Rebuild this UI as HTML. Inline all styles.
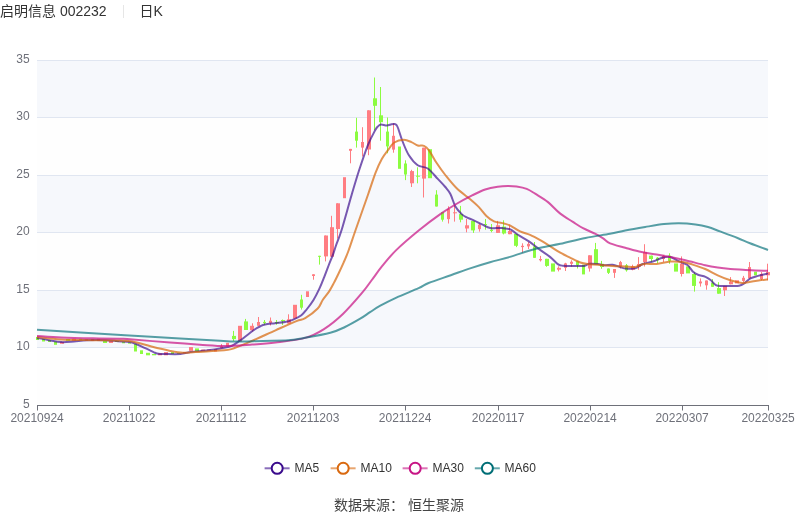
<!DOCTYPE html>
<html lang="zh"><head><meta charset="utf-8"><title>启明信息 002232 日K</title>
<style>
html,body{margin:0;padding:0;background:#fff;}
body{width:800px;height:517px;position:relative;overflow:hidden;font-family:"Liberation Sans","Noto Sans CJK SC",sans-serif;}
.title{position:absolute;left:0px;top:1px;font-size:14px;line-height:20px;color:#333;white-space:nowrap;}
.title .sep{display:inline-block;width:1px;height:13px;background:#e6e6e6;vertical-align:-2px;margin:0 16px 0 16px;}
.ax{font:12px "Liberation Sans","Noto Sans CJK SC",sans-serif;fill:#6e7079;}
.lg{font:12px "Liberation Sans","Noto Sans CJK SC",sans-serif;fill:#333;}
.src{position:absolute;left:-1px;width:800px;top:495px;text-align:center;font-size:14px;line-height:20px;color:#444;white-space:pre;}
</style></head><body>
<div class="title"><span>启明信息 002232</span><span class="sep"></span><span>日K</span></div>
<svg width="800" height="495" viewBox="0 22 800 495" style="position:absolute;left:0;top:22px">
<rect x="37" y="60" width="731" height="57.5" fill="#f6f8fc"/>
<rect x="37" y="175" width="731" height="57.5" fill="#f6f8fc"/>
<rect x="37" y="290" width="731" height="57.5" fill="#f6f8fc"/>
<rect x="37" y="117.5" width="731" height="57.5" fill="#fefefe"/>
<rect x="37" y="232.5" width="731" height="57.5" fill="#fefefe"/>
<rect x="37" y="347.5" width="731" height="57.5" fill="#fefefe"/>
<rect x="37" y="60" width="731" height="1" fill="#e0e6f1"/>
<rect x="37" y="117" width="731" height="1" fill="#e0e6f1"/>
<rect x="37" y="175" width="731" height="1" fill="#e0e6f1"/>
<rect x="37" y="232" width="731" height="1" fill="#e0e6f1"/>
<rect x="37" y="290" width="731" height="1" fill="#e0e6f1"/>
<rect x="37" y="347" width="731" height="1" fill="#e0e6f1"/>
<rect x="36.00" y="337.00" width="3.00" height="3.00" fill="#8cfc40"/>
<rect x="42.00" y="339.00" width="3.00" height="2.50" fill="#8cfc40"/>
<rect x="48.00" y="340.00" width="3.00" height="2.00" fill="#8cfc40"/>
<rect x="54.00" y="341.50" width="3.00" height="3.30" fill="#8cfc40"/>
<rect x="60.00" y="341.80" width="4.00" height="2.00" fill="#ff7d82"/>
<rect x="66.00" y="339.00" width="4.00" height="1.80" fill="#8cfc40"/>
<rect x="72.00" y="338.80" width="4.00" height="2.00" fill="#ff7d82"/>
<rect x="79.00" y="338.80" width="3.00" height="1.40" fill="#8cfc40"/>
<rect x="85.00" y="339.20" width="3.00" height="1.60" fill="#ff7d82"/>
<rect x="91.00" y="339.00" width="3.00" height="2.00" fill="#ff7d82"/>
<rect x="97.00" y="338.80" width="3.00" height="2.20" fill="#ff7d82"/>
<rect x="103.00" y="341.00" width="4.00" height="2.00" fill="#8cfc40"/>
<rect x="109.00" y="341.00" width="4.00" height="2.00" fill="#ff7d82"/>
<rect x="115.00" y="341.00" width="4.00" height="1.00" fill="#8cfc40"/>
<rect x="122.00" y="341.70" width="3.00" height="1.60" fill="#8cfc40"/>
<rect x="128.00" y="342.50" width="3.00" height="1.20" fill="#8cfc40"/>
<rect x="134.00" y="344.00" width="3.00" height="7.50" fill="#8cfc40"/>
<rect x="140.00" y="350.30" width="3.00" height="3.70" fill="#8cfc40"/>
<rect x="146.00" y="352.80" width="4.00" height="2.50" fill="#8cfc40"/>
<rect x="152.00" y="354.00" width="4.00" height="1.30" fill="#8cfc40"/>
<rect x="158.00" y="353.40" width="4.00" height="1.90" fill="#ff7d82"/>
<rect x="164.00" y="352.10" width="4.00" height="3.20" fill="#ff7d82"/>
<rect x="171.00" y="352.10" width="3.00" height="1.90" fill="#8cfc40"/>
<rect x="177.00" y="352.80" width="3.00" height="1.00" fill="#8cfc40"/>
<rect x="183.00" y="352.10" width="3.00" height="1.30" fill="#ff7d82"/>
<rect x="189.00" y="347.10" width="4.00" height="3.80" fill="#ff7d82"/>
<rect x="195.00" y="348.40" width="4.00" height="3.10" fill="#8cfc40"/>
<rect x="201.00" y="349.60" width="4.00" height="1.30" fill="#ff7d82"/>
<rect x="207.00" y="349.50" width="4.00" height="1.00" fill="#ff7d82"/>
<rect x="214.00" y="349.00" width="3.00" height="2.50" fill="#ff7d82"/>
<rect x="221.00" y="344.00" width="1" height="4.50" fill="#ff7d82"/>
<rect x="220.00" y="346.30" width="3.00" height="1.90" fill="#ff7d82"/>
<rect x="226.00" y="342.80" width="3.00" height="3.20" fill="#ff7d82"/>
<rect x="233.00" y="330.90" width="1" height="10.00" fill="#8cfc40"/>
<rect x="232.00" y="335.90" width="4.00" height="3.20" fill="#8cfc40"/>
<rect x="238.00" y="325.80" width="4.00" height="15.80" fill="#ff7d82"/>
<rect x="245.00" y="318.90" width="1" height="11.10" fill="#8cfc40"/>
<rect x="244.00" y="321.40" width="4.00" height="8.60" fill="#8cfc40"/>
<rect x="252.00" y="323.30" width="1" height="8.20" fill="#ff7d82"/>
<rect x="250.00" y="325.80" width="4.00" height="4.50" fill="#ff7d82"/>
<rect x="258.00" y="317.00" width="1" height="8.80" fill="#ff7d82"/>
<rect x="257.00" y="322.00" width="3.00" height="3.80" fill="#ff7d82"/>
<rect x="264.00" y="320.00" width="1" height="5.00" fill="#8cfc40"/>
<rect x="263.00" y="321.90" width="3.00" height="1.20" fill="#8cfc40"/>
<rect x="270.00" y="317.50" width="1" height="8.00" fill="#ff7d82"/>
<rect x="269.00" y="320.80" width="3.00" height="2.20" fill="#ff7d82"/>
<rect x="276.00" y="320.00" width="1" height="4.80" fill="#8cfc40"/>
<rect x="275.00" y="322.00" width="4.00" height="1.20" fill="#8cfc40"/>
<rect x="282.00" y="319.50" width="1" height="5.50" fill="#8cfc40"/>
<rect x="281.00" y="320.00" width="4.00" height="1.20" fill="#8cfc40"/>
<rect x="288.00" y="314.30" width="1" height="9.20" fill="#ff7d82"/>
<rect x="287.00" y="319.30" width="4.00" height="4.20" fill="#ff7d82"/>
<rect x="293.00" y="304.80" width="4.00" height="13.80" fill="#ff7d82"/>
<rect x="301.00" y="294.80" width="1" height="14.80" fill="#8cfc40"/>
<rect x="300.00" y="299.50" width="3.00" height="8.20" fill="#8cfc40"/>
<rect x="306.00" y="291.30" width="3.00" height="5.70" fill="#ff7d82"/>
<rect x="313.00" y="274.30" width="1" height="5.40" fill="#ff7d82"/>
<rect x="312.00" y="274.30" width="3.00" height="1.70" fill="#ff7d82"/>
<rect x="319.00" y="255.80" width="1" height="8.80" fill="#8cfc40"/>
<rect x="318.00" y="255.80" width="3.00" height="1.00" fill="#8cfc40"/>
<rect x="325.00" y="235.50" width="1" height="25.90" fill="#ff7d82"/>
<rect x="324.00" y="235.50" width="4.00" height="20.90" fill="#ff7d82"/>
<rect x="331.00" y="215.80" width="1" height="40.90" fill="#ff7d82"/>
<rect x="330.00" y="227.20" width="4.00" height="29.50" fill="#ff7d82"/>
<rect x="337.00" y="203.30" width="1" height="35.20" fill="#ff7d82"/>
<rect x="336.00" y="203.30" width="4.00" height="25.70" fill="#ff7d82"/>
<rect x="343.00" y="177.20" width="3.00" height="21.00" fill="#ff7d82"/>
<rect x="350.00" y="148.90" width="1" height="14.40" fill="#ff7d82"/>
<rect x="349.00" y="148.90" width="3.00" height="1.90" fill="#ff7d82"/>
<rect x="356.00" y="117.80" width="1" height="29.80" fill="#8cfc40"/>
<rect x="355.00" y="131.60" width="3.00" height="9.10" fill="#8cfc40"/>
<rect x="362.00" y="127.20" width="1" height="29.20" fill="#ff7d82"/>
<rect x="361.00" y="142.00" width="3.00" height="5.60" fill="#ff7d82"/>
<rect x="368.00" y="110.30" width="1" height="44.90" fill="#ff7d82"/>
<rect x="367.00" y="110.30" width="4.00" height="39.20" fill="#ff7d82"/>
<rect x="374.00" y="77.50" width="1" height="52.50" fill="#8cfc40"/>
<rect x="373.00" y="98.30" width="4.00" height="7.50" fill="#8cfc40"/>
<rect x="380.00" y="87.00" width="1" height="53.70" fill="#8cfc40"/>
<rect x="379.00" y="115.30" width="4.00" height="6.90" fill="#8cfc40"/>
<rect x="387.00" y="117.50" width="1" height="35.80" fill="#8cfc40"/>
<rect x="386.00" y="131.60" width="3.00" height="14.80" fill="#8cfc40"/>
<rect x="393.00" y="123.30" width="1" height="29.40" fill="#ff7d82"/>
<rect x="392.00" y="135.80" width="3.00" height="13.80" fill="#ff7d82"/>
<rect x="398.00" y="146.50" width="3.00" height="22.30" fill="#8cfc40"/>
<rect x="405.00" y="160.30" width="1" height="19.80" fill="#8cfc40"/>
<rect x="404.00" y="163.50" width="3.00" height="11.00" fill="#8cfc40"/>
<rect x="411.00" y="169.80" width="1" height="17.20" fill="#ff7d82"/>
<rect x="410.00" y="171.10" width="4.00" height="12.20" fill="#ff7d82"/>
<rect x="417.00" y="167.30" width="1" height="16.00" fill="#8cfc40"/>
<rect x="416.00" y="175.70" width="4.00" height="1.00" fill="#8cfc40"/>
<rect x="423.00" y="147.70" width="1" height="49.80" fill="#ff7d82"/>
<rect x="422.00" y="147.70" width="4.00" height="30.90" fill="#ff7d82"/>
<rect x="428.00" y="149.20" width="4.00" height="29.00" fill="#8cfc40"/>
<rect x="436.00" y="190.20" width="1" height="16.30" fill="#8cfc40"/>
<rect x="435.00" y="194.60" width="3.00" height="11.90" fill="#8cfc40"/>
<rect x="442.00" y="212.20" width="1" height="9.40" fill="#8cfc40"/>
<rect x="441.00" y="212.20" width="3.00" height="7.50" fill="#8cfc40"/>
<rect x="448.00" y="206.30" width="1" height="17.20" fill="#ff7d82"/>
<rect x="447.00" y="209.00" width="3.00" height="10.10" fill="#ff7d82"/>
<rect x="454.00" y="205.30" width="1" height="16.30" fill="#ff7d82"/>
<rect x="453.00" y="212.30" width="4.00" height="1.00" fill="#ff7d82"/>
<rect x="460.00" y="205.90" width="1" height="16.40" fill="#8cfc40"/>
<rect x="459.00" y="214.10" width="4.00" height="5.60" fill="#8cfc40"/>
<rect x="466.00" y="219.00" width="1" height="13.30" fill="#ff7d82"/>
<rect x="465.00" y="225.30" width="4.00" height="3.20" fill="#ff7d82"/>
<rect x="473.00" y="220.90" width="1" height="12.00" fill="#8cfc40"/>
<rect x="471.00" y="220.90" width="4.00" height="9.50" fill="#8cfc40"/>
<rect x="479.00" y="223.50" width="1" height="8.10" fill="#ff7d82"/>
<rect x="478.00" y="224.70" width="3.00" height="4.40" fill="#ff7d82"/>
<rect x="485.00" y="219.00" width="1" height="10.70" fill="#8cfc40"/>
<rect x="484.00" y="224.00" width="3.00" height="1.00" fill="#8cfc40"/>
<rect x="491.00" y="224.00" width="1" height="8.30" fill="#8cfc40"/>
<rect x="490.00" y="229.70" width="3.00" height="1.30" fill="#8cfc40"/>
<rect x="497.00" y="220.90" width="1" height="12.00" fill="#ff7d82"/>
<rect x="496.00" y="225.30" width="4.00" height="7.60" fill="#ff7d82"/>
<rect x="503.00" y="220.30" width="1" height="14.10" fill="#8cfc40"/>
<rect x="502.00" y="226.60" width="4.00" height="6.90" fill="#8cfc40"/>
<rect x="509.00" y="225.30" width="1" height="8.90" fill="#ff7d82"/>
<rect x="508.00" y="231.00" width="4.00" height="3.20" fill="#ff7d82"/>
<rect x="516.00" y="233.90" width="1" height="13.20" fill="#8cfc40"/>
<rect x="514.00" y="233.90" width="4.00" height="11.90" fill="#8cfc40"/>
<rect x="522.00" y="243.30" width="1" height="9.40" fill="#ff7d82"/>
<rect x="521.00" y="245.80" width="3.00" height="1.30" fill="#ff7d82"/>
<rect x="528.00" y="242.00" width="1" height="7.00" fill="#ff7d82"/>
<rect x="527.00" y="243.90" width="3.00" height="2.50" fill="#ff7d82"/>
<rect x="534.00" y="242.00" width="1" height="15.80" fill="#8cfc40"/>
<rect x="533.00" y="246.40" width="3.00" height="11.40" fill="#8cfc40"/>
<rect x="540.00" y="255.90" width="1" height="5.60" fill="#ff7d82"/>
<rect x="539.00" y="259.00" width="3.00" height="1.30" fill="#ff7d82"/>
<rect x="546.00" y="258.80" width="1" height="8.00" fill="#8cfc40"/>
<rect x="545.00" y="258.80" width="4.00" height="7.10" fill="#8cfc40"/>
<rect x="551.00" y="263.40" width="4.00" height="8.20" fill="#8cfc40"/>
<rect x="558.00" y="266.30" width="1" height="5.10" fill="#ff7d82"/>
<rect x="557.00" y="267.80" width="4.00" height="1.90" fill="#ff7d82"/>
<rect x="565.00" y="262.80" width="1" height="8.20" fill="#ff7d82"/>
<rect x="564.00" y="263.40" width="3.00" height="4.40" fill="#ff7d82"/>
<rect x="571.00" y="260.30" width="1" height="6.30" fill="#ff7d82"/>
<rect x="570.00" y="261.80" width="3.00" height="2.00" fill="#ff7d82"/>
<rect x="577.00" y="261.30" width="1" height="7.20" fill="#8cfc40"/>
<rect x="576.00" y="261.30" width="3.00" height="4.00" fill="#8cfc40"/>
<rect x="582.00" y="264.70" width="3.00" height="9.70" fill="#8cfc40"/>
<rect x="589.00" y="255.30" width="1" height="16.30" fill="#ff7d82"/>
<rect x="588.00" y="255.30" width="4.00" height="13.20" fill="#ff7d82"/>
<rect x="595.00" y="242.90" width="1" height="21.20" fill="#8cfc40"/>
<rect x="594.00" y="249.20" width="4.00" height="14.90" fill="#8cfc40"/>
<rect x="601.00" y="260.90" width="1" height="7.90" fill="#8cfc40"/>
<rect x="600.00" y="263.80" width="4.00" height="3.20" fill="#8cfc40"/>
<rect x="608.00" y="268.50" width="1" height="5.50" fill="#8cfc40"/>
<rect x="607.00" y="268.50" width="3.00" height="4.30" fill="#8cfc40"/>
<rect x="614.00" y="269.00" width="1" height="8.90" fill="#ff7d82"/>
<rect x="613.00" y="269.00" width="3.00" height="3.80" fill="#ff7d82"/>
<rect x="620.00" y="260.90" width="1" height="7.50" fill="#ff7d82"/>
<rect x="619.00" y="262.10" width="3.00" height="4.40" fill="#ff7d82"/>
<rect x="626.00" y="264.00" width="1" height="7.60" fill="#8cfc40"/>
<rect x="625.00" y="265.30" width="3.00" height="5.00" fill="#8cfc40"/>
<rect x="632.00" y="264.70" width="1" height="5.60" fill="#ff7d82"/>
<rect x="631.00" y="266.50" width="4.00" height="3.20" fill="#ff7d82"/>
<rect x="638.00" y="257.10" width="1" height="12.60" fill="#ff7d82"/>
<rect x="637.00" y="264.00" width="4.00" height="2.50" fill="#ff7d82"/>
<rect x="644.00" y="244.20" width="1" height="22.30" fill="#ff7d82"/>
<rect x="643.00" y="252.10" width="4.00" height="10.00" fill="#ff7d82"/>
<rect x="651.00" y="255.60" width="1" height="6.50" fill="#8cfc40"/>
<rect x="649.00" y="255.60" width="4.00" height="3.40" fill="#8cfc40"/>
<rect x="657.00" y="257.10" width="1" height="6.30" fill="#8cfc40"/>
<rect x="656.00" y="257.70" width="3.00" height="2.60" fill="#8cfc40"/>
<rect x="663.00" y="255.20" width="1" height="6.90" fill="#ff7d82"/>
<rect x="662.00" y="255.80" width="3.00" height="3.20" fill="#ff7d82"/>
<rect x="669.00" y="253.30" width="1" height="10.50" fill="#8cfc40"/>
<rect x="668.00" y="255.60" width="3.00" height="5.30" fill="#8cfc40"/>
<rect x="674.00" y="263.40" width="4.00" height="8.20" fill="#8cfc40"/>
<rect x="681.00" y="256.40" width="1" height="20.10" fill="#ff7d82"/>
<rect x="680.00" y="263.60" width="4.00" height="10.40" fill="#ff7d82"/>
<rect x="686.00" y="266.40" width="4.00" height="7.00" fill="#8cfc40"/>
<rect x="694.00" y="272.10" width="1" height="19.50" fill="#8cfc40"/>
<rect x="692.00" y="274.00" width="4.00" height="11.90" fill="#8cfc40"/>
<rect x="700.00" y="278.40" width="1" height="8.20" fill="#ff7d82"/>
<rect x="699.00" y="281.50" width="3.00" height="1.90" fill="#ff7d82"/>
<rect x="706.00" y="280.50" width="1" height="9.20" fill="#ff7d82"/>
<rect x="705.00" y="280.50" width="3.00" height="4.80" fill="#ff7d82"/>
<rect x="712.00" y="279.00" width="1" height="7.80" fill="#8cfc40"/>
<rect x="711.00" y="282.80" width="3.00" height="4.00" fill="#8cfc40"/>
<rect x="718.00" y="282.20" width="1" height="11.50" fill="#8cfc40"/>
<rect x="717.00" y="288.10" width="4.00" height="5.60" fill="#8cfc40"/>
<rect x="724.00" y="285.90" width="1" height="10.10" fill="#ff7d82"/>
<rect x="723.00" y="285.90" width="4.00" height="4.40" fill="#ff7d82"/>
<rect x="730.00" y="277.10" width="1" height="7.20" fill="#ff7d82"/>
<rect x="729.00" y="281.50" width="4.00" height="2.80" fill="#ff7d82"/>
<rect x="735.00" y="280.30" width="4.00" height="3.10" fill="#ff7d82"/>
<rect x="743.00" y="275.90" width="1" height="6.30" fill="#ff7d82"/>
<rect x="742.00" y="277.80" width="3.00" height="3.10" fill="#ff7d82"/>
<rect x="749.00" y="262.00" width="1" height="16.40" fill="#ff7d82"/>
<rect x="748.00" y="267.10" width="3.00" height="11.30" fill="#ff7d82"/>
<rect x="754.00" y="271.70" width="3.00" height="3.60" fill="#8cfc40"/>
<rect x="761.00" y="272.10" width="1" height="8.20" fill="#ff7d82"/>
<rect x="760.00" y="274.00" width="3.00" height="5.00" fill="#ff7d82"/>
<rect x="767.00" y="263.70" width="1" height="16.60" fill="#ff7d82"/>
<rect x="766.00" y="272.10" width="4.00" height="3.20" fill="#ff7d82"/>
<path d="M37.00,337.90C38.98,338.28 44.83,339.50 48.90,340.20C52.97,340.90 57.22,341.90 61.40,342.10C65.58,342.30 69.80,341.72 74.00,341.40C78.20,341.08 81.35,340.40 86.60,340.20C91.85,340.00 100.27,340.03 105.50,340.20C110.73,340.37 113.75,340.85 118.00,341.20C122.25,341.55 126.47,341.13 131.00,342.30C135.53,343.47 141.37,346.53 145.20,348.20C149.03,349.87 151.78,351.37 154.00,352.30C156.22,353.23 156.67,353.52 158.50,353.80C160.33,354.08 161.35,353.97 165.00,354.00C168.65,354.03 176.17,354.32 180.40,354.00C184.63,353.68 185.80,352.72 190.40,352.10C195.00,351.48 203.07,350.90 208.00,350.30C212.93,349.70 216.10,349.22 220.00,348.50C223.90,347.78 228.02,347.37 231.40,346.00C234.78,344.63 236.37,343.08 240.30,340.30C244.23,337.52 251.72,331.60 255.00,329.30C258.28,327.00 258.33,327.30 260.00,326.50C261.67,325.70 262.50,325.05 265.00,324.50C267.50,323.95 271.67,323.62 275.00,323.20C278.33,322.78 282.07,322.57 285.00,322.00C287.93,321.43 289.87,320.93 292.60,319.80C295.33,318.67 299.00,317.00 301.40,315.20C303.80,313.40 304.98,311.53 307.00,309.00C309.02,306.47 311.43,303.38 313.50,300.00C315.57,296.62 317.62,292.52 319.40,288.70C321.18,284.88 322.60,281.13 324.20,277.10C325.80,273.07 327.55,268.22 329.00,264.50C330.45,260.78 331.73,257.97 332.90,254.80C334.07,251.63 334.55,249.63 336.00,245.50C337.45,241.37 339.00,238.42 341.60,230.00C344.20,221.58 348.68,204.95 351.60,195.00C354.52,185.05 356.38,178.62 359.10,170.30C361.82,161.98 365.20,151.82 367.90,145.10C370.60,138.38 373.62,133.12 375.30,130.00C376.98,126.88 377.05,127.33 378.00,126.40C378.95,125.47 379.53,124.55 381.00,124.40C382.47,124.25 385.05,125.52 386.80,125.50C388.55,125.48 390.22,124.53 391.50,124.30C392.78,124.07 393.68,123.98 394.50,124.10C395.32,124.22 395.78,124.27 396.40,125.00C397.02,125.73 397.17,125.75 398.20,128.50C399.23,131.25 400.82,137.03 402.60,141.50C404.38,145.97 406.38,151.33 408.90,155.30C411.42,159.27 414.57,163.10 417.70,165.30C420.83,167.50 424.35,166.23 427.70,168.50C431.05,170.77 434.87,175.82 437.80,178.90C440.73,181.98 443.20,184.48 445.30,187.00C447.40,189.52 448.72,190.75 450.40,194.00C452.08,197.25 453.52,203.15 455.40,206.50C457.28,209.85 459.88,212.32 461.70,214.10C463.52,215.88 464.28,216.17 466.30,217.20C468.32,218.23 471.08,219.05 473.80,220.30C476.52,221.55 479.87,223.43 482.60,224.70C485.33,225.97 487.05,227.33 490.20,227.90C493.35,228.47 498.15,227.85 501.50,228.10C504.85,228.35 507.63,228.33 510.30,229.40C512.97,230.47 514.40,232.50 517.50,234.50C520.60,236.50 525.33,238.98 528.90,241.40C532.47,243.82 535.33,246.38 538.90,249.00C542.47,251.62 547.15,254.58 550.30,257.10C553.45,259.62 555.72,262.67 557.80,264.10C559.88,265.53 559.87,265.40 562.80,265.70C565.73,266.00 571.83,265.87 575.40,265.90C578.97,265.93 581.90,266.25 584.20,265.90C586.50,265.55 586.90,264.10 589.20,263.80C591.50,263.50 595.48,263.87 598.00,264.10C600.52,264.33 601.87,265.10 604.30,265.20C606.73,265.30 609.98,264.40 612.60,264.70C615.22,265.00 617.77,266.35 620.00,267.00C622.23,267.65 623.47,268.37 626.00,268.60C628.53,268.83 632.40,269.17 635.20,268.40C638.00,267.63 639.87,265.15 642.80,264.00C645.73,262.85 649.45,262.58 652.80,261.50C656.15,260.42 659.97,258.23 662.90,257.50C665.83,256.77 667.88,256.53 670.40,257.10C672.92,257.67 675.15,259.58 678.00,260.90C680.85,262.22 685.00,263.18 687.50,265.00C690.00,266.82 691.25,270.17 693.00,271.80C694.75,273.43 695.92,273.97 698.00,274.80C700.08,275.63 703.40,275.93 705.50,276.80C707.60,277.67 709.27,278.97 710.60,280.00C711.93,281.03 712.32,282.05 713.50,283.00C714.68,283.95 714.90,285.22 717.70,285.70C720.50,286.18 726.73,285.90 730.30,285.90C733.87,285.90 736.78,286.12 739.10,285.70C741.42,285.28 742.32,284.62 744.20,283.40C746.08,282.18 748.10,279.65 750.40,278.40C752.70,277.15 755.07,276.73 758.00,275.90C760.93,275.07 766.33,273.82 768.00,273.40" fill="none" stroke="rgba(58,11,140,0.68)" stroke-width="2" stroke-linejoin="round" stroke-linecap="butt"/>
<path d="M37.00,337.00C41.07,337.43 52.08,339.07 61.40,339.60C70.72,340.13 83.13,340.03 92.90,340.20C102.67,340.37 113.38,340.40 120.00,340.60C126.62,340.80 127.37,340.42 132.60,341.40C137.83,342.38 145.12,344.92 151.40,346.50C157.68,348.08 165.05,349.85 170.30,350.90C175.55,351.95 178.70,352.60 182.90,352.80C187.10,353.00 189.32,352.48 195.50,352.10C201.68,351.72 214.02,351.00 220.00,350.50C225.98,350.00 226.35,350.58 231.40,349.10C236.45,347.62 242.95,344.73 250.30,341.60C257.65,338.47 267.82,333.72 275.50,330.30C283.18,326.88 291.45,323.13 296.40,321.10C301.35,319.07 301.65,320.20 305.20,318.10C308.75,316.00 314.78,311.52 317.70,308.50C320.62,305.48 320.82,302.82 322.70,300.00C324.58,297.18 327.13,294.45 329.00,291.60C330.87,288.75 332.28,285.97 333.90,282.90C335.52,279.83 337.08,276.58 338.70,273.20C340.32,269.82 341.98,266.30 343.60,262.60C345.22,258.90 346.40,256.43 348.40,251.00C350.40,245.57 352.35,239.33 355.60,230.00C358.85,220.67 364.58,204.53 367.90,195.00C371.22,185.47 373.18,178.82 375.50,172.80C377.82,166.78 379.72,162.68 381.80,158.90C383.88,155.12 385.92,152.83 388.00,150.10C390.08,147.37 391.67,144.22 394.30,142.50C396.93,140.78 400.95,139.87 403.80,139.80C406.65,139.73 409.08,141.15 411.40,142.10C413.72,143.05 415.60,144.88 417.70,145.50C419.80,146.12 422.12,145.00 424.00,145.80C425.88,146.60 426.92,147.47 429.00,150.30C431.08,153.13 433.78,158.68 436.50,162.80C439.22,166.92 441.93,170.75 445.30,175.00C448.67,179.25 452.50,184.22 456.70,188.30C460.90,192.38 466.80,196.37 470.50,199.50C474.20,202.63 476.25,204.37 478.90,207.10C481.55,209.83 483.88,213.53 486.40,215.90C488.92,218.27 491.07,220.03 494.00,221.30C496.93,222.57 501.28,222.78 504.00,223.50C506.72,224.22 507.62,224.28 510.30,225.60C512.98,226.92 516.80,229.85 520.10,231.40C523.40,232.95 526.75,233.43 530.10,234.90C533.45,236.37 536.83,238.28 540.20,240.20C543.57,242.12 546.95,244.32 550.30,246.40C553.65,248.48 556.95,250.80 560.30,252.70C563.65,254.60 567.05,256.17 570.40,257.80C573.75,259.43 577.47,261.45 580.40,262.50C583.33,263.55 585.07,263.73 588.00,264.10C590.93,264.47 593.90,264.38 598.00,264.70C602.10,265.02 608.07,265.72 612.60,266.00C617.13,266.28 621.43,266.25 625.20,266.40C628.97,266.55 632.07,267.30 635.20,266.90C638.33,266.50 640.43,264.48 644.00,264.00C647.57,263.52 652.20,264.42 656.60,264.00C661.00,263.58 666.00,261.82 670.40,261.50C674.80,261.18 679.30,261.58 683.00,262.10C686.70,262.62 688.90,263.45 692.60,264.60C696.30,265.75 701.02,267.22 705.20,269.00C709.38,270.78 713.52,273.42 717.70,275.30C721.88,277.18 726.52,279.05 730.30,280.30C734.08,281.55 737.67,282.43 740.40,282.80C743.13,283.17 744.18,282.82 746.70,282.50C749.22,282.18 751.95,281.43 755.50,280.90C759.05,280.37 765.92,279.57 768.00,279.30" fill="none" stroke="rgba(215,105,15,0.72)" stroke-width="2" stroke-linejoin="round" stroke-linecap="butt"/>
<path d="M37.00,336.00C41.07,336.23 52.08,337.02 61.40,337.40C70.72,337.78 83.13,338.08 92.90,338.30C102.67,338.52 113.82,338.55 120.00,338.70C126.18,338.85 121.67,338.55 130.00,339.20C138.33,339.85 158.33,341.68 170.00,342.60C181.67,343.52 190.80,344.13 200.00,344.70C209.20,345.27 216.82,346.00 225.20,346.00C233.58,346.00 241.92,345.28 250.30,344.70C258.68,344.12 266.35,343.63 275.50,342.50C284.65,341.37 297.12,340.13 305.20,337.90C313.28,335.67 317.72,333.08 324.00,329.10C330.28,325.12 336.60,319.98 342.90,314.00C349.20,308.02 356.98,298.87 361.80,293.20C366.62,287.53 368.42,284.50 371.80,280.00C375.18,275.50 378.03,271.18 382.10,266.20C386.17,261.22 390.00,256.13 396.20,250.10C402.40,244.07 411.95,236.00 419.30,230.00C426.65,224.00 434.28,218.35 440.30,214.10C446.32,209.85 450.02,207.65 455.40,204.50C460.78,201.35 467.63,197.70 472.60,195.20C477.57,192.70 481.02,190.92 485.20,189.50C489.38,188.08 493.93,187.30 497.70,186.70C501.47,186.10 504.65,185.93 507.80,185.90C510.95,185.87 513.45,186.00 516.60,186.50C519.75,187.00 523.55,187.67 526.70,188.90C529.85,190.13 531.95,191.70 535.50,193.90C539.05,196.10 543.92,198.85 548.00,202.10C552.08,205.35 555.85,210.10 560.00,213.40C564.15,216.70 569.07,219.43 572.90,221.90C576.73,224.37 579.23,226.20 583.00,228.20C586.77,230.20 592.15,232.22 595.50,233.90C598.85,235.58 600.67,236.73 603.10,238.30C605.53,239.87 606.42,241.73 610.10,243.30C613.78,244.87 619.97,246.23 625.20,247.70C630.43,249.17 636.27,250.95 641.50,252.10C646.73,253.25 651.78,253.77 656.60,254.60C661.42,255.43 665.58,256.15 670.40,257.10C675.22,258.05 679.70,258.95 685.50,260.30C691.30,261.65 699.83,264.00 705.20,265.20C710.57,266.40 713.52,266.87 717.70,267.50C721.88,268.13 726.10,268.62 730.30,269.00C734.50,269.38 738.70,269.55 742.90,269.80C747.10,270.05 751.32,270.33 755.50,270.50C759.68,270.67 765.92,270.75 768.00,270.80" fill="none" stroke="rgba(199,21,133,0.72)" stroke-width="2" stroke-linejoin="round" stroke-linecap="butt"/>
<path d="M37.00,329.70C44.22,330.18 65.63,331.68 80.30,332.60C94.97,333.52 108.38,334.23 125.00,335.20C141.62,336.17 164.17,337.47 180.00,338.40C195.83,339.33 210.83,340.27 220.00,340.80C229.17,341.33 227.85,341.58 235.00,341.60C242.15,341.62 254.07,341.12 262.90,340.90C271.73,340.68 281.32,340.75 288.00,340.30C294.68,339.85 295.95,339.45 303.00,338.20C310.05,336.95 323.30,334.67 330.30,332.80C337.30,330.93 340.02,329.35 345.00,327.00C349.98,324.65 356.03,321.17 360.20,318.70C364.37,316.23 366.65,314.37 370.00,312.20C373.35,310.03 375.90,308.13 380.30,305.70C384.70,303.27 390.02,300.52 396.40,297.60C402.78,294.68 413.23,290.63 418.60,288.20C423.97,285.77 423.23,285.17 428.60,283.00C433.97,280.83 443.75,277.68 450.80,275.20C457.85,272.72 464.37,270.27 470.90,268.10C477.43,265.93 483.48,264.07 490.00,262.20C496.52,260.33 502.47,259.10 510.00,256.90C517.53,254.70 526.82,251.18 535.20,249.00C543.58,246.82 551.92,245.65 560.30,243.80C568.68,241.95 577.22,239.57 585.50,237.90C593.78,236.23 603.38,235.03 610.00,233.80C616.62,232.57 619.33,231.63 625.20,230.50C631.07,229.37 638.73,228.07 645.20,227.00C651.67,225.93 658.37,224.73 664.00,224.10C669.63,223.47 673.75,223.15 679.00,223.20C684.25,223.25 690.67,223.77 695.50,224.40C700.33,225.03 703.92,225.83 708.00,227.00C712.08,228.17 715.08,229.57 720.00,231.40C724.92,233.23 732.50,236.03 737.50,238.00C742.50,239.97 744.92,241.20 750.00,243.20C755.08,245.20 765.00,248.87 768.00,250.00" fill="none" stroke="rgba(0,110,118,0.66)" stroke-width="2" stroke-linejoin="round" stroke-linecap="butt"/>
<rect x="37" y="405" width="731" height="1" fill="#6e7079"/>
<rect x="37" y="405" width="1" height="5.5" fill="#6e7079"/>
<text x="37.1" y="422.2" text-anchor="middle" class="ax">20210924</text>
<rect x="129" y="405" width="1" height="5.5" fill="#6e7079"/>
<text x="129.1" y="422.2" text-anchor="middle" class="ax">20211022</text>
<rect x="221" y="405" width="1" height="5.5" fill="#6e7079"/>
<text x="221.1" y="422.2" text-anchor="middle" class="ax">20211112</text>
<rect x="313" y="405" width="1" height="5.5" fill="#6e7079"/>
<text x="313.1" y="422.2" text-anchor="middle" class="ax">20211203</text>
<rect x="405" y="405" width="1" height="5.5" fill="#6e7079"/>
<text x="405.1" y="422.2" text-anchor="middle" class="ax">20211224</text>
<rect x="498" y="405" width="1" height="5.5" fill="#6e7079"/>
<text x="498.1" y="422.2" text-anchor="middle" class="ax">20220117</text>
<rect x="590" y="405" width="1" height="5.5" fill="#6e7079"/>
<text x="590.1" y="422.2" text-anchor="middle" class="ax">20220214</text>
<rect x="682" y="405" width="1" height="5.5" fill="#6e7079"/>
<text x="682.1" y="422.2" text-anchor="middle" class="ax">20220307</text>
<rect x="768" y="405" width="1" height="5.5" fill="#6e7079"/>
<text x="768.1" y="422.2" text-anchor="middle" class="ax">20220325</text>
<text x="29.6" y="62.8" text-anchor="end" class="ax">35</text>
<text x="29.6" y="120.3" text-anchor="end" class="ax">30</text>
<text x="29.6" y="177.8" text-anchor="end" class="ax">25</text>
<text x="29.6" y="235.3" text-anchor="end" class="ax">20</text>
<text x="29.6" y="292.8" text-anchor="end" class="ax">15</text>
<text x="29.6" y="350.3" text-anchor="end" class="ax">10</text>
<text x="29.6" y="407.8" text-anchor="end" class="ax">5</text>
<rect x="264.6" y="467.3" width="25" height="2" fill="#3a0b8c" opacity="0.6"/>
<circle cx="277.2" cy="468.3" r="5.5" fill="#fff" stroke="#3a0b8c" stroke-width="2"/>
<text x="294.5" y="471.7" class="lg">MA5</text>
<rect x="330.6" y="467.3" width="25" height="2" fill="#d9690f" opacity="0.6"/>
<circle cx="343.2" cy="468.3" r="5.5" fill="#fff" stroke="#d9690f" stroke-width="2"/>
<text x="360.5" y="471.7" class="lg">MA10</text>
<rect x="402.6" y="467.3" width="25" height="2" fill="#c71585" opacity="0.6"/>
<circle cx="415.2" cy="468.3" r="5.5" fill="#fff" stroke="#c71585" stroke-width="2"/>
<text x="432.5" y="471.7" class="lg">MA30</text>
<rect x="474.8" y="467.3" width="25" height="2" fill="#006e76" opacity="0.6"/>
<circle cx="487.4" cy="468.3" r="5.5" fill="#fff" stroke="#006e76" stroke-width="2"/>
<text x="504.5" y="471.7" class="lg">MA60</text>
</svg>
<div class="src">数据来源： 恒生聚源</div>
</body></html>
